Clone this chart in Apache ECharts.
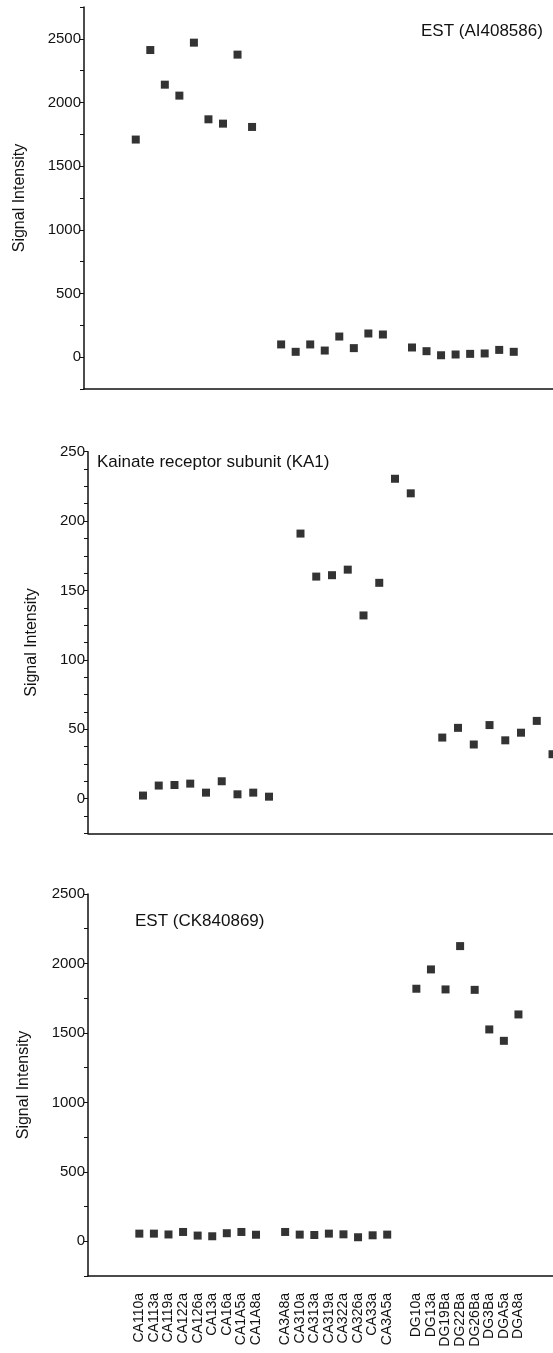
<!DOCTYPE html>
<html>
<head>
<meta charset="utf-8">
<script src="https://cdn.jsdelivr.net/npm/echarts@6/dist/echarts.min.js"></script>
<style>
  html, body { margin: 0; padding: 0; background: #fff; }
  #main { width: 553px; height: 1353px; }
</style>
</head>
<body>
<div id="main"></div>
<script>
// sample names, three groups
var ca1Names = ['CA110a', 'CA113a', 'CA119a', 'CA122a', 'CA126a', 'CA13a', 'CA16a', 'CA1A5a', 'CA1A8a']
var ca3Names = ['CA3A8a', 'CA310a', 'CA313a', 'CA319a', 'CA322a', 'CA326a', 'CA33a', 'CA3A5a']
var dgNames = ['DG10a', 'DG13a', 'DG19Ba', 'DG22Ba', 'DG26Ba', 'DG3Ba', 'DGA5a', 'DGA8a']

// signal intensity, in the same order as the names
var estAI408586 = [1709, 2412, 2140, 2054, 2470, 1868, 1834, 2376, 1808,
  100, 42, 100, 52, 162, 71, 186, 178,
  76, 47, 15, 21, 26, 29, 57, 42]
var ka1 = [2.2, 9.4, 9.8, 10.8, 4.3, 12.5, 3.1, 4.3, 1.4,
  191, 160, 161, 165, 132, 155.5, 230.5, 220,
  44, 51, 39, 53, 42, 47.5, 56, 32]
var estCK840869 = [55, 55, 49, 67, 41, 36, 58, 67, 47,
  67, 48, 45, 55, 50, 29, 43, 48,
  1818, 1957, 1813, 2125, 1810, 1525, 1443, 1633]

var titles = ['EST (AI408586)', 'Kainate receptor subunit (KA1)', 'EST (CK840869)']

// x slot of each sample: one empty slot between groups
var names = ca1Names.concat(ca3Names, dgNames)
var slots = []
ca1Names.forEach(function (n, i) { slots.push(i) })
ca3Names.forEach(function (n, i) { slots.push(10 + i) })
dgNames.forEach(function (n, i) { slots.push(19 + i) })

var font = 'Liberation Sans, Arial, Helvetica, sans-serif'

var panels = [
  { data: estAI408586, left: 84, top: 7, height: 382, xMin: -3.56, xMax: 28.7,
    yMin: -250, yMax: 2750, step: 250, every: 500, nameGap: 56, tLeft: 421, tTop: 23 },
  { data: ka1, left: 88, top: 451.7, height: 381.6, xMin: -3.49, xMax: 26.03,
    yMin: -25, yMax: 250, step: 12.5, every: 50, nameGap: 48, tLeft: 97, tTop: 454 },
  { data: estCK840869, left: 88, top: 894, height: 382, xMin: -3.52, xMax: 28.37,
    yMin: -250, yMax: 2500, step: 250, every: 500, nameGap: 56, tLeft: 135, tTop: 913 }
]

var axisLine = { show: true, onZero: false, lineStyle: { color: '#111', width: 1.5 } }

var option = {
  backgroundColor: '#fff',
  animation: false,
  title: [],
  grid: [],
  xAxis: [],
  yAxis: [],
  series: []
}

panels.forEach(function (p, k) {
  var last = k === panels.length - 1
  option.title.push({
    text: titles[k], left: p.tLeft, top: p.tTop, padding: 0,
    textStyle: { fontSize: 17, fontWeight: 'normal', color: '#111', fontFamily: font }
  })
  option.grid.push({
    left: p.left, top: p.top, right: 0, height: p.height,
    containLabel: false, outerBoundsMode: 'none'
  })
  option.xAxis.push({
    gridIndex: k, type: 'value', min: p.xMin, max: p.xMax,
    axisLine: axisLine,
    axisTick: { show: false },
    splitLine: { show: false },
    axisLabel: last ? {
      customValues: slots,
      rotate: 90, margin: 17, fontSize: 14, color: '#111', fontFamily: font,
      formatter: function (v) { return names[slots.indexOf(Math.round(v))] || '' }
    } : { show: false }
  })
  option.yAxis.push({
    gridIndex: k, type: 'value', min: p.yMin, max: p.yMax, interval: p.step,
    name: 'Signal Intensity', nameLocation: 'middle', nameGap: p.nameGap,
    nameTextStyle: { fontSize: 16, color: '#111', fontFamily: font },
    axisLine: axisLine,
    axisTick: { show: true, length: 4, lineStyle: { color: '#111', width: 1 } },
    splitLine: { show: false },
    axisLabel: {
      fontSize: 15, color: '#111', margin: 3, fontFamily: font,
      formatter: function (v) { return v % p.every === 0 ? String(v) : '' }
    }
  })
  option.series.push({
    type: 'scatter', xAxisIndex: k, yAxisIndex: k,
    symbol: 'rect', symbolSize: 8,
    itemStyle: { color: '#000' },
    data: p.data.map(function (v, i) { return [slots[i], v] })
  })
})

var myChart = echarts.init(document.getElementById('main'))
myChart.setOption(option)
</script>
</body>
</html>
